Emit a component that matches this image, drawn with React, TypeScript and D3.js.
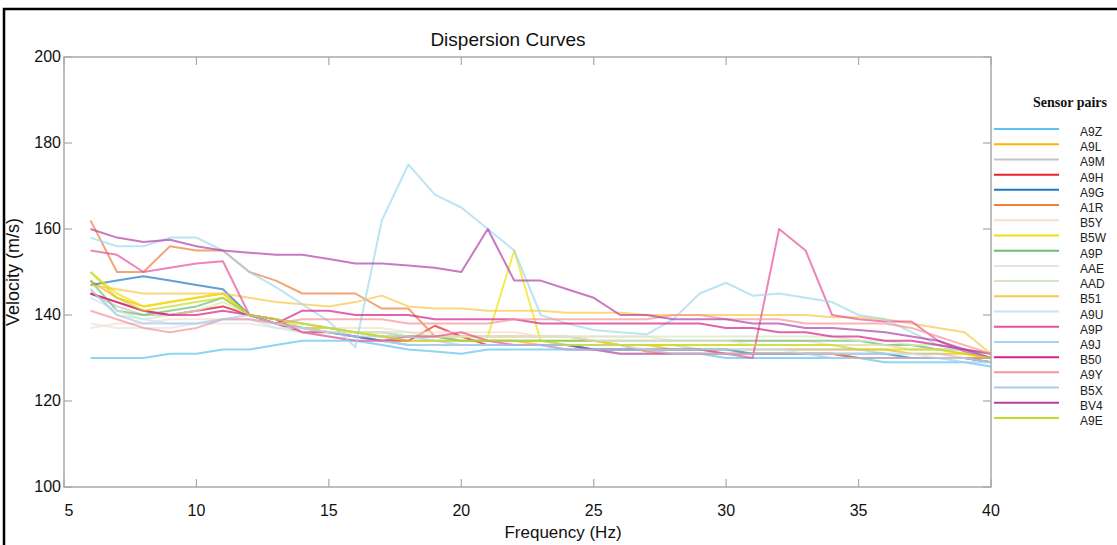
import React from "react";
import * as d3 from "d3";

const FREQ = [6, 7, 8, 9, 10, 11, 12, 13, 14, 15, 16, 17, 18, 19, 20, 21, 22, 23, 24, 25, 26, 27, 28, 29, 30, 31, 32, 33, 34, 35, 36, 37, 38, 39, 40];

const A9Z = [130, 130, 130, 131, 131, 132, 132, 133, 134, 134, 134, 133, 132, 131.5, 131, 132, 132, 132, 132, 132, 131, 131, 131, 131, 130, 130, 130, 130, 130, 130, 129, 129, 129, 129, 128];
const A9L = [148, 144, 142, 143, 144, 145, 140, 139, 137, 137, 136, 135, 134, 134, 134, 134, 134, 133, 133, 133, 133, 133, 132, 132, 132, 132, 132, 132, 132, 132, 132, 131, 131, 131, 130];
const A9M = [145, 142, 140, 140, 141, 142, 140, 138, 137, 136, 136, 135, 135, 135, 134, 134, 134, 134, 133, 133, 133, 133, 133, 132, 132, 132, 132, 132, 132, 132, 131, 131, 131, 130, 130];
const A9H = [145, 143, 141, 140, 141, 142, 140, 138, 136, 136, 135, 134, 134, 137.5, 135, 133, 133, 133, 133, 132, 132, 132, 132, 132, 131, 131, 131, 131, 131, 130, 130, 130, 130, 130, 129];
const A9G = [147, 148, 149, 148, 147, 146, 140, 138, 137, 136, 135, 134, 133, 133, 133, 133, 133, 133, 133, 132, 132, 132, 132, 132, 132, 131, 131, 131, 131, 131, 131, 130, 130, 130, 129];
const A1R = [162, 150, 150, 156, 155, 155, 150, 148, 145, 145, 145, 141.5, 141.5, 135, 135, 135, 135, 135, 135, 134, 133, 131.5, 131, 131, 131, 131, 131, 131, 131, 130, 130, 130, 130, 130, 130];
const B5Y = [137, 138, 138, 139, 139, 139, 139, 138, 138, 137, 137, 137, 136, 136, 136, 136, 136, 135, 135, 135, 135, 135, 134, 134, 134, 134, 134, 134, 133, 133, 133, 133, 132, 132, 131];
const B5W = [150, 145, 142, 143, 144, 145, 140, 138, 137, 136, 136, 135, 135, 135, 135, 135, 155, 134, 134, 134, 133, 133, 133, 133, 133, 133, 133, 133, 133, 133, 133, 132, 132, 131, 130];
const A9P_GREEN = [148, 141, 140, 141, 142, 144, 140, 139, 138, 137, 136, 136, 135, 135, 134, 134, 134, 134, 134, 134, 134, 134, 134, 134, 134, 134, 134, 134, 134, 134, 133, 133, 132, 132, 131];
const AAE = [138, 137, 137, 137, 138, 138, 138, 137, 137, 136, 136, 136, 135, 135, 135, 135, 135, 135, 135, 134, 134, 134, 134, 134, 134, 133, 133, 133, 133, 133, 133, 132, 132, 132, 131];
const AAD = [146, 140, 139, 140, 141, 143, 140, 139, 138, 137, 136, 136, 136, 135, 135, 135, 135, 135, 135, 135, 135, 135, 135, 135, 135, 135, 135, 135, 135, 134, 134, 133, 133, 132, 131];
const B51 = [147, 146, 145, 145, 145, 145, 144, 143, 142.5, 142, 143, 144.5, 142, 141.5, 141.5, 141, 141, 141, 140.5, 140.5, 140.5, 140, 140, 140, 140, 140, 140, 140, 139.5, 139.5, 139, 138, 137, 136, 131];
const A9U = [144, 141, 139, 138, 138, 139, 139, 137, 136, 135, 134, 134, 133, 133, 133, 133, 133, 133, 133, 133, 133, 132, 132, 132, 132, 132, 132, 131, 131, 131, 131, 131, 130, 130, 129];
const A9P_PINK = [155, 154, 150, 151, 152, 152.5, 140, 139, 136, 135, 134, 134, 135, 135, 136, 134, 133, 133, 132, 132, 131, 131, 131, 131, 131, 130, 160, 155, 140, 139, 138.5, 138.5, 134, 131.5, 130];
const A9J = [158, 156, 156, 158, 158, 155, 150, 146.5, 142.5, 138.5, 132.5, 162, 175, 168, 165, 160, 155, 140, 138, 136.5, 136, 135.5, 139, 145, 147.5, 144.5, 145, 144, 143, 140, 139, 136, 133, 132, 130];
const B50 = [145, 143, 141, 140, 140, 141, 140, 138, 141, 141, 140, 140, 140, 139, 139, 139, 139, 138, 138, 138, 138, 138, 138, 138, 137, 137, 136, 136, 135, 135, 134, 134, 133, 132, 131];
const A9Y = [141, 139, 137, 136, 137, 139, 139, 138, 139, 139, 139, 139, 138, 138, 138, 138, 139, 139, 139, 139, 139, 139, 140, 140, 139, 139, 139, 138, 138, 138, 138, 137, 135, 133, 131];
const B5X = [146, 140, 138, 138, 138, 139, 140, 138, 137, 136, 135, 135, 135, 134, 133, 133, 133, 133, 132, 132, 132, 132, 131, 131, 131, 131, 131, 131, 130, 130, 130, 130, 130, 129, 129];
const BV4 = [160, 158, 157, 157.5, 156, 155, 154.5, 154, 154, 153, 152, 152, 151.5, 151, 150, 160, 148, 148, 146, 144, 140, 140, 139, 139, 139, 138, 138, 137, 137, 136.5, 136, 135, 134, 132, 130];
const A9E = [150, 144, 141, 142, 143, 144, 140, 139, 138, 137, 136, 135, 134, 134, 134, 134, 134, 134, 133, 133, 133, 133, 133, 133, 133, 133, 133, 133, 133, 132, 132, 132, 132, 131, 130];

const SERIES_NAMES = ["A9Z", "A9L", "A9M", "A9H", "A9G", "A1R", "B5Y", "B5W", "A9P", "AAE", "AAD", "B51", "A9U", "A9P", "A9J", "B50", "A9Y", "B5X", "BV4", "A9E"];
const SERIES_COLORS = ["#5bc4ee", "#ffb300", "#c4c4c4", "#e8202a", "#1e78c0", "#f07f3a", "#f9dccb", "#f0e20a", "#6cbe6c", "#e4e4e4", "#d2e8bc", "#f8c848", "#c6e3f7", "#e8509a", "#9fd8f0", "#d6208a", "#f59696", "#aacbf0", "#b040a8", "#c4da28"];
const SERIES_VALUES = [A9Z, A9L, A9M, A9H, A9G, A1R, B5Y, B5W, A9P_GREEN, AAE, AAD, B51, A9U, A9P_PINK, A9J, B50, A9Y, B5X, BV4, A9E];

const X_TICKS = [5, 10, 15, 20, 25, 30, 35, 40];
const Y_TICKS = [100, 120, 140, 160, 180, 200];

export default function App() {
  const W = 1117;
  const H = 545;
  const left = 64, right = 991, top = 57, bottom = 487;
  const x = d3.scaleLinear().domain([5, 40]).range([left, right]);
  const y = d3.scaleLinear().domain([100, 200]).range([bottom, top]);
  const line = d3
    .line<number>()
    .x((_, i) => x(FREQ[i]))
    .y((d) => y(d));
  const axisColor = "#a9a9a9";
  const font = "'Liberation Sans', Arial, sans-serif";
  const tickLen = 8;
  const legendY = d3.scaleLinear().domain([0, SERIES_NAMES.length - 1]).range([129, 418]);

  return (
    <svg
      width={W}
      height={H}
      style={{ position: "absolute", left: 0, top: 0, background: "#fff" }}
      fontFamily={font}
    >
      <rect x={0} y={0} width={W} height={H} fill="#fff" />
      {/* outer frame */}
      <path d={`M4,${H} L4,9 L${W},9`} fill="none" stroke="#000" strokeWidth={2.5} />

      <text x={508} y={46} textAnchor="middle" fontSize={19} fill="#111">
        Dispersion Curves
      </text>

      {/* data lines */}
      <g fill="none" strokeWidth={2} strokeOpacity={0.7} strokeLinejoin="round">
        {SERIES_VALUES.map((vals, i) => (
          <path key={i} d={line(vals) || ""} stroke={SERIES_COLORS[i]} />
        ))}
      </g>

      {/* axes box */}
      <rect x={left} y={top} width={right - left} height={bottom - top} fill="none" stroke={axisColor} strokeWidth={1.5} />
      {X_TICKS.map((t) => (
        <g key={"x" + t}>
          <line x1={x(t)} x2={x(t)} y1={bottom} y2={bottom - tickLen} stroke={axisColor} strokeWidth={1.2} />
          <line x1={x(t)} x2={x(t)} y1={top} y2={top + tickLen} stroke={axisColor} strokeWidth={1.2} />
          <text x={x(t) + (t === 5 ? 5 : 0)} y={516} textAnchor="middle" fontSize={16} fill="#111">
            {t}
          </text>
        </g>
      ))}
      {Y_TICKS.map((t) => (
        <g key={"y" + t}>
          <line x1={left} x2={left + tickLen} y1={y(t)} y2={y(t)} stroke={axisColor} strokeWidth={1.2} />
          <line x1={right} x2={right - tickLen} y1={y(t)} y2={y(t)} stroke={axisColor} strokeWidth={1.2} />
          <text x={61} y={y(t) + 5} textAnchor="end" fontSize={16} fill="#111">
            {t}
          </text>
        </g>
      ))}

      <text x={563} y={538} textAnchor="middle" fontSize={17} fill="#111">
        Frequency (Hz)
      </text>
      <text
        transform={`translate(19,${(top + bottom) / 2}) rotate(-90)`}
        textAnchor="middle"
        fontSize={18}
        fill="#111"
      >
        Velocity (m/s)
      </text>

      {/* legend */}
      <text
        x={1070}
        y={107}
        textAnchor="middle"
        fontSize={14}
        fontWeight="bold"
        fontFamily="'Liberation Serif', 'Times New Roman', serif"
        fill="#111"
      >
        Sensor pairs
      </text>
      {SERIES_NAMES.map((name, i) => (
        <g key={"l" + i}>
          <line x1={994} x2={1059} y1={legendY(i)} y2={legendY(i)} stroke={SERIES_COLORS[i]} strokeWidth={2} />
          <text x={1080} y={legendY(i) + 7} fontSize={12} fill="#222">
            {name}
          </text>
        </g>
      ))}
    </svg>
  );
}
